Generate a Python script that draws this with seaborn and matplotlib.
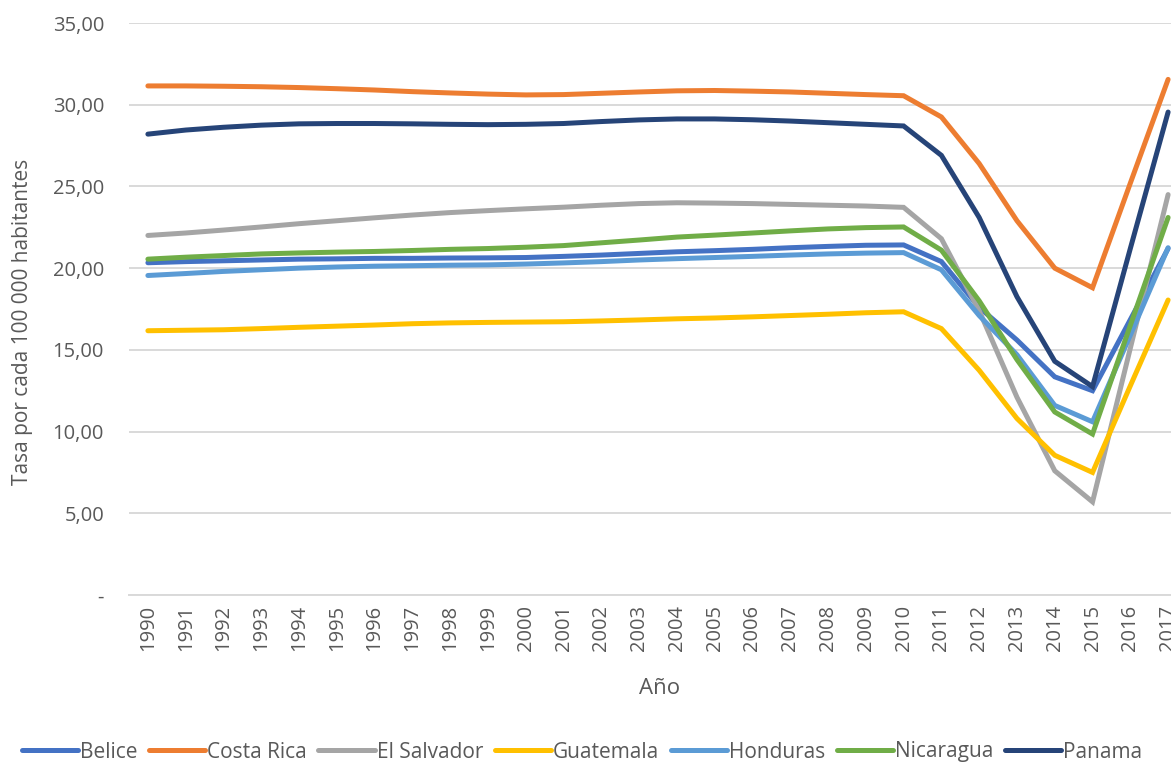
import matplotlib
matplotlib.use("Agg")
import matplotlib.pyplot as plt
import matplotlib.ticker as mticker
import seaborn as sns
import pandas as pd

years = list(range(1990, 2018))

belice = [20.33, 20.40, 20.45, 20.50, 20.55, 20.57, 20.60, 20.60, 20.62, 20.63,
          20.65, 20.72, 20.80, 20.90, 21.00, 21.07, 21.15, 21.25, 21.33, 21.40,
          21.42, 20.40, 17.60, 15.60, 13.35, 12.50, 16.85, 21.20]
costa_rica = [31.15, 31.15, 31.13, 31.10, 31.05, 30.98, 30.90, 30.80, 30.72, 30.65,
              30.60, 30.62, 30.70, 30.78, 30.85, 30.87, 30.83, 30.78, 30.70, 30.62,
              30.55, 29.25, 26.40, 22.90, 20.00, 18.80, 25.20, 31.55]
el_salvador = [22.00, 22.15, 22.33, 22.52, 22.72, 22.90, 23.08, 23.25, 23.40, 23.52,
               23.63, 23.73, 23.85, 23.95, 24.00, 23.98, 23.95, 23.90, 23.85, 23.80,
               23.72, 21.80, 17.40, 12.10, 7.60, 5.70, 15.10, 24.50]
guatemala = [16.17, 16.20, 16.23, 16.30, 16.38, 16.45, 16.52, 16.60, 16.65, 16.68,
             16.70, 16.72, 16.77, 16.83, 16.90, 16.95, 17.02, 17.10, 17.18, 17.27,
             17.33, 16.30, 13.75, 10.80, 8.55, 7.50, 12.80, 18.05]
honduras = [19.55, 19.67, 19.80, 19.90, 20.00, 20.07, 20.12, 20.15, 20.18, 20.20,
            20.25, 20.32, 20.40, 20.50, 20.58, 20.65, 20.72, 20.80, 20.87, 20.92,
            20.95, 19.90, 17.10, 14.70, 11.60, 10.60, 15.90, 21.25]
nicaragua = [20.55, 20.67, 20.77, 20.87, 20.93, 20.98, 21.02, 21.08, 21.15, 21.20,
             21.28, 21.38, 21.55, 21.72, 21.90, 22.02, 22.15, 22.28, 22.40, 22.48,
             22.52, 21.10, 18.00, 14.40, 11.20, 9.85, 16.50, 23.10]
panama = [28.20, 28.45, 28.62, 28.75, 28.83, 28.85, 28.85, 28.83, 28.80, 28.78,
          28.80, 28.85, 28.97, 29.07, 29.13, 29.13, 29.08, 29.00, 28.90, 28.80,
          28.70, 26.90, 23.10, 18.25, 14.30, 12.75, 21.20, 29.55]

countries = ["Belice", "Costa Rica", "El Salvador", "Guatemala",
             "Honduras", "Nicaragua", "Panama"]
series = [belice, costa_rica, el_salvador, guatemala, honduras, nicaragua, panama]
colors = ["#4472C4", "#ED7D31", "#A5A5A5", "#FFC000", "#5B9BD5", "#70AD47", "#264478"]

y_ticks = [0, 5, 10, 15, 20, 25, 30, 35]

df = pd.DataFrame(
    [(c, y, v) for c, vals in zip(countries, series) for y, v in zip(years, vals)],
    columns=["País", "Año", "Tasa"],
)

sns.set_theme(style="white")
plt.rcParams["font.family"] = ["Open Sans", "DejaVu Sans"]

fig = plt.figure(figsize=(11.71, 7.65), dpi=100)
ax = fig.add_axes([129 / 1171, 170 / 765, 1058 / 1171, 572 / 765])

sns.lineplot(data=df, x="Año", y="Tasa", hue="País", hue_order=countries,
             palette=colors, linewidth=3.6, ax=ax, legend=False,
             solid_capstyle="round", solid_joinstyle="miter", zorder=3)

ax.set_xlim(years[0] - 0.5, years[-1] + 0.5)
ax.set_ylim(0, 35)
ax.set_xticks(years)
ax.set_xticklabels([str(y) for y in years], rotation=90)
ax.set_yticks(y_ticks)


def fmt(v, _pos):
    if v == 0:
        return "-"
    return f"{v:.2f}".replace(".", ",")


ax.yaxis.set_major_formatter(mticker.FuncFormatter(fmt))
ax.grid(axis="y", color="#D9D9D9", linewidth=1.4, zorder=0)
ax.grid(axis="x", visible=False)
for side in ["top", "right", "left"]:
    ax.spines[side].set_visible(False)
ax.spines["bottom"].set_color("#D9D9D9")
ax.spines["bottom"].set_linewidth(1.4)

ax.tick_params(axis="both", length=0, labelsize=14.5, labelcolor="#595959")
ax.tick_params(axis="y", pad=18)
ax.tick_params(axis="x", pad=7)

ax.set_xlabel("Año", fontsize=16, color="#595959")
ax.set_ylabel("Tasa por cada 100 000 habitantes", fontsize=15, color="#595959")
ax.xaxis.set_label_coords((660 - 129) / 1058, (595 - 678) / 572)
ax.yaxis.set_label_coords((33 - 129) / 1058, (595 - 322) / 572)

handles = [plt.Line2D([], [], color=c, linewidth=3.6, solid_capstyle="round")
           for c in colors]
fig.legend(handles, countries, loc="center", bbox_to_anchor=(0.497, 1 - 752 / 765),
           ncol=7, frameon=False, fontsize=15, labelcolor="#595959",
           handlelength=2.7, handletextpad=0.1, columnspacing=0.55)

fig.savefig("out.png", dpi=100)
